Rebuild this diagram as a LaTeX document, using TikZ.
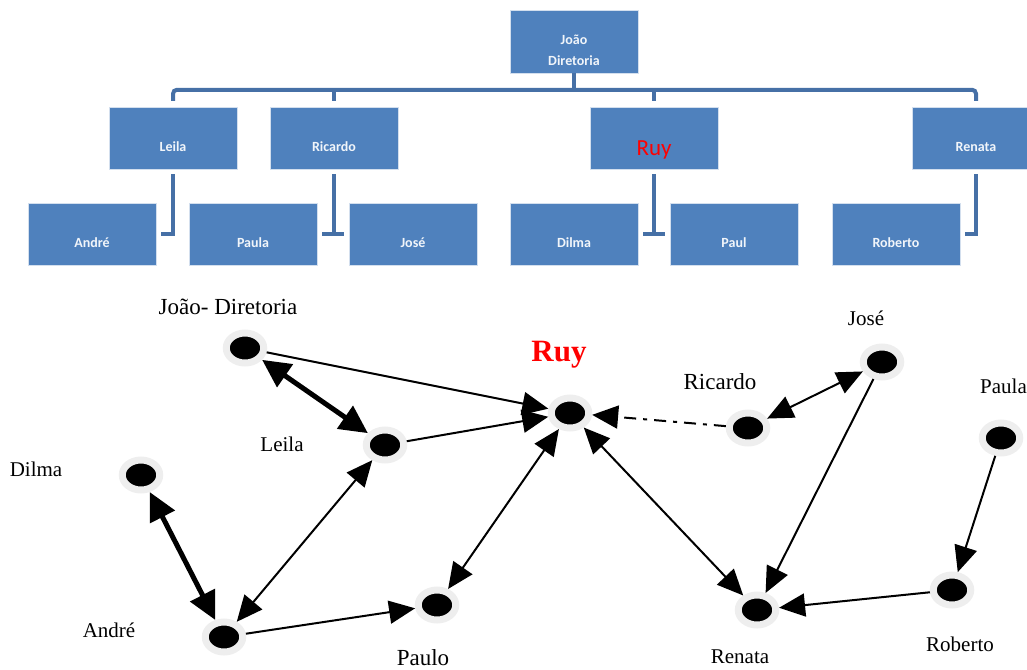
\documentclass[tikz,border=0pt]{standalone}
\usepackage{fontspec}
\setmainfont{Liberation Serif}
\newfontfamily\orgfont{Carlito}
\usepackage{tikz}
\usetikzlibrary{shapes.geometric,arrows.meta,positioning}
\definecolor{orgblue}{HTML}{4F81BD}
\definecolor{orgline}{HTML}{4670A6}
\definecolor{halo}{HTML}{EEEEEE}

\begin{document}
\begin{tikzpicture}[
  x = 1pt, y = -1pt,
  orgbox/.style = {rectangle, fill=orgblue, draw=white!75!orgblue, line width=0.5pt,
    minimum width=128pt, minimum height=62pt, inner sep=0pt,
    font=\orgfont\bfseries\fontsize{14}{21}\selectfont, text=white!92!orgblue},
  membro/.style = {orgbox, text height=26pt, text depth=0pt},
  orgconn/.style = {draw=orgline, line width=4pt},
  pessoa/.style = {ellipse, fill=black, draw=halo, line width=7pt,
    minimum width=37.5pt, minimum height=30pt, inner sep=0pt},
  nome/.style = {anchor=base, inner sep=0pt, font=\fontsize{21}{24}\selectfont},
  nome_grande/.style = {nome, font=\fontsize{23}{26}\selectfont},
  arr/.style  = {-{Triangle[length=26pt,width=23pt]}, line width=2pt},
  darr/.style = {{Triangle[length=26pt,width=23pt]}-{Triangle[length=26pt,width=23pt]},
    line width=2pt},
  darr_forte/.style = {{Triangle[length=28pt,width=27pt]}-{Triangle[length=28pt,width=27pt]},
    line width=5pt}
]
\useasboundingbox (0,0) rectangle (1027,669);

% organograma
\node[orgbox, minimum height=63pt, align=center] (joao) at (574,41.5)
  {\rule{0pt}{28pt}João\\Diretoria};
\node[membro] (leila)   at (173,138) {Leila};
\node[membro] (ricardo) at (334,138) {Ricardo};
\node[membro, text height=34pt, text=red,
  font=\orgfont\fontsize{23}{26}\selectfont] (ruy) at (654,138) {Ruy};
\node[membro] (renata)  at (976,138) {Renata};
\node[membro] (andre)   at (92,234)  {André};
\node[membro] (paula)   at (253,234) {Paula};
\node[membro] (jose)    at (413,234) {José};
\node[membro] (dilma)   at (574,234) {Dilma};
\node[membro] (paul)    at (734,234) {Paul};
\node[membro] (roberto) at (896,234) {Roberto};

\draw[orgconn] (joao.south) -- ++(0,17);
\draw[orgconn, rounded corners=4pt]
  ([yshift=6pt]leila.north) -- ++(0,-11) -| ([yshift=6pt]renata.north);
\draw[orgconn] ([yshift=6pt]ricardo.north) -- ++(0,-11);
\draw[orgconn] ([yshift=6pt]ruy.north) -- ++(0,-11);

\draw[orgconn] ([yshift=-5pt]leila.south) |- ([xshift=5pt]andre.east);
\draw[orgconn] ([yshift=-5pt]ricardo.south) -- (ricardo.south |- paula.east);
\draw[orgconn] ([xshift=5pt]paula.east) -- ([xshift=-5pt]jose.west);
\draw[orgconn] ([yshift=-5pt]ruy.south) -- (ruy.south |- dilma.east);
\draw[orgconn] ([xshift=5pt]dilma.east) -- ([xshift=-5pt]paul.west);
\draw[orgconn] ([yshift=-5pt]renata.south) |- ([xshift=5pt]roberto.east);

% rede
\node[pessoa] (g_joao)    at (245,348) {};
\node[pessoa] (g_leila)   at (385,445) {};
\node[pessoa] (g_ruy)     at (570,413) {};
\node[pessoa] (g_ricardo) at (748,428) {};
\node[pessoa] (g_jose)    at (882,362) {};
\node[pessoa] (g_paula)   at (1001,438) {};
\node[pessoa] (g_dilma)   at (141,475) {};
\node[pessoa] (g_andre)   at (224,637) {};
\node[pessoa] (g_paulo)   at (437,605) {};
\node[pessoa] (g_renata)  at (757,610) {};
\node[pessoa] (g_roberto) at (952,590) {};

\node[nome_grande] (l_joao) at (228,314) {João- Diretoria};
\node[nome, text=red, font=\bfseries\fontsize{31}{34}\selectfont] (l_ruy) at (559,361) {Ruy};
\node[nome_grande] (l_ricardo) at (720,389) {Ricardo};
\node[nome] (l_jose)    at (866,325) {José};
\node[nome, anchor=base west] (l_paula) at (980,393) {Paula};
\node[nome] (l_leila)   at (282,451) {Leila};
\node[nome] (l_dilma)   at (36,476)  {Dilma};
\node[nome] (l_andre)   at (109,637) {André};
\node[nome_grande] (l_paulo) at (423,665) {Paulo};
\node[nome] (l_renata)  at (740,663) {Renata};
\node[nome] (l_roberto) at (960,651) {Roberto};

\draw[arr] (g_joao) -- (g_ruy);
\draw[darr_forte] (g_joao) -- (g_leila);
\draw[arr] (g_leila) -- (g_ruy);
\draw[arr, dash pattern=on 12pt off 7pt on 4pt off 7pt] (g_ricardo) -- (g_ruy);
\draw[darr] (g_ricardo) -- (g_jose);
\draw[arr] (g_jose) -- (g_renata);
\draw[arr] (g_paula) -- (g_roberto);
\draw[arr] (g_roberto) -- (g_renata);
\draw[darr] (g_ruy) -- (g_renata);
\draw[darr] (g_ruy) -- (g_paulo);
\draw[darr] (g_leila) -- (g_andre);
\draw[darr_forte] (g_dilma) -- (g_andre);
\draw[arr] (g_andre) -- (g_paulo);
\end{tikzpicture}
\end{document}
